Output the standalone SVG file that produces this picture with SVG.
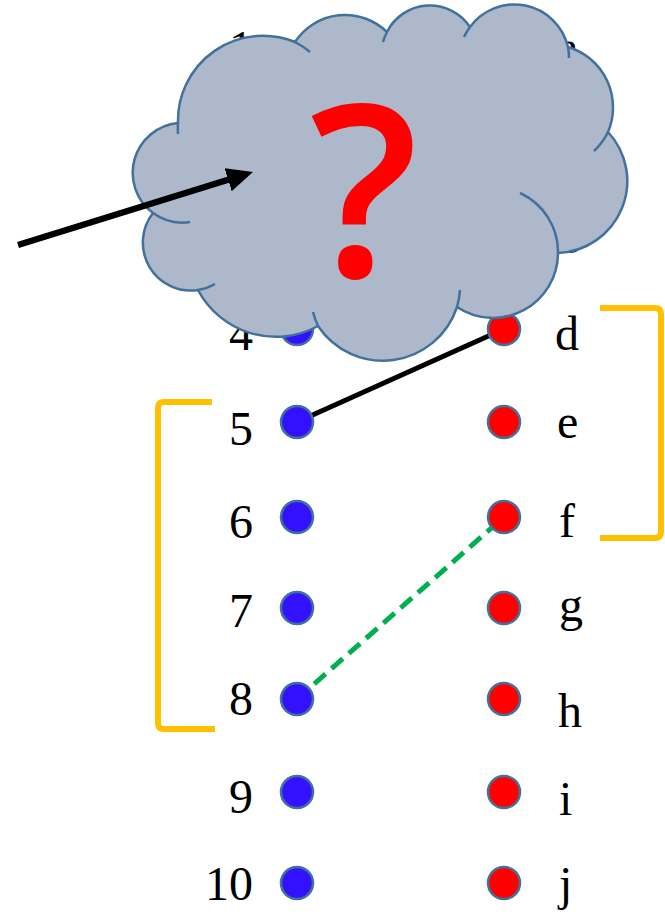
<svg xmlns="http://www.w3.org/2000/svg" width="665" height="914" viewBox="0 0 665 914">
<defs>
<style>
.lbl{font-family:"Liberation Serif","Times New Roman",serif;font-size:48px;fill:#000}
.num{text-anchor:end}
.b{fill:#3311FF;stroke:#41719C;stroke-width:2.5}
.r{fill:#FF0000;stroke:#41719C;stroke-width:2.5}
.br{fill:none;stroke:#FFC000;stroke-width:6;stroke-linejoin:round}
.cloud{fill:#ADB9CA;stroke:#41719C;stroke-width:2.5}
.inner{fill:none;stroke:#41719C;stroke-width:2.5}
</style>
<marker id="ah" viewBox="0 0 26 24" refX="16" refY="12" markerWidth="26" markerHeight="24" markerUnits="userSpaceOnUse" orient="auto">
<path d="M0,0 L26,12 L0,24 z" fill="#000"/>
</marker>
</defs>
<rect width="665" height="914" fill="#fff"/>
<g id="connectors">
<line x1="297" y1="422" x2="504" y2="329" stroke="#000" stroke-width="5"/>
<line x1="297" y1="699" x2="504" y2="517" stroke="#00B050" stroke-width="5" stroke-dasharray="15 8"/>
</g>
<g id="brackets">
<path class="br" d="M212,402 L164,402 Q158,402 158,408 L158,723 Q158,729 164,729 L215,729"/>
<path class="br" d="M600,308 L655,308 Q661,308 661,314 L661,532 Q661,538 655,538 L600,538"/>
</g>
<g id="n1"><circle class="b" cx="297" cy="57" r="16"/><text class="lbl num" x="253" y="64">1</text></g>
<g id="n2"><circle class="b" cx="297" cy="137" r="16"/><text class="lbl num" x="253" y="160">2</text></g>
<g id="n3"><circle class="b" cx="297" cy="234" r="16"/><text class="lbl num" x="253" y="257">3</text></g>
<g id="n4"><circle class="b" cx="297" cy="329" r="16"/><text class="lbl num" x="253" y="350">4</text></g>
<g id="n5"><circle class="b" cx="297" cy="422" r="16"/><text class="lbl num" x="253" y="445">5</text></g>
<g id="n6"><circle class="b" cx="297" cy="517" r="16"/><text class="lbl num" x="253" y="538">6</text></g>
<g id="n7"><circle class="b" cx="297" cy="608" r="16"/><text class="lbl num" x="253" y="627">7</text></g>
<g id="n8"><circle class="b" cx="297" cy="699" r="16"/><text class="lbl num" x="253" y="715">8</text></g>
<g id="n9"><circle class="b" cx="297" cy="792" r="16"/><text class="lbl num" x="253" y="813">9</text></g>
<g id="n10"><circle class="b" cx="297" cy="883" r="16"/><text class="lbl num" x="253" y="900">10</text></g>
<g id="na"><circle class="r" cx="504" cy="45" r="16"/><text class="lbl" x="557" y="64">a</text></g>
<g id="nb"><circle class="r" cx="504" cy="137" r="16"/><text class="lbl" x="557" y="160">b</text></g>
<g id="nc"><circle class="r" cx="504" cy="234" r="16"/><text class="lbl" x="557" y="253">c</text></g>
<g id="nd"><circle class="r" cx="504" cy="329" r="16"/><text class="lbl" x="555" y="350">d</text></g>
<g id="ne"><circle class="r" cx="504" cy="422" r="16"/><text class="lbl" x="557" y="438">e</text></g>
<g id="nf"><circle class="r" cx="504" cy="517" r="16"/><text class="lbl" x="559" y="537">f</text></g>
<g id="ng"><circle class="r" cx="504" cy="608" r="16"/><text class="lbl" x="559" y="621">g</text></g>
<g id="nh"><circle class="r" cx="504" cy="699" r="16"/><text class="lbl" x="558" y="727">h</text></g>
<g id="ni"><circle class="r" cx="504" cy="792" r="16"/><text class="lbl" x="559" y="815">i</text></g>
<g id="nj"><circle class="r" cx="504" cy="883" r="16"/><text class="lbl" x="559" y="900">j</text></g>
<g id="cloud">
<path class="cloud" d="M178,123 A85,85 0 0 1 295,42 A60,60 0 0 1 387,32 A48,48 0 0 1 470,27 A55,55 0 0 1 568,47 A63,63 0 0 1 608,132 A72,72 0 0 1 558,253 A65,65 0 0 1 457,307 A78,78 0 0 1 318,326 A88,88 0 0 1 198,290 A48,48 0 0 1 153,213 A50,50 0 0 1 178,123 Z"/>
<path class="inner" d="M178,123 A85,85 0 0 0 178,134 M295,42 A85,85 0 0 1 310,52 M387,32 A48,48 0 0 0 383,42 M470,27 A55,55 0 0 0 464,37 M568,47 A55,55 0 0 1 569,58 M608,132 A63,63 0 0 1 594,151 M558,253 A65,65 0 0 0 520,193 M457,307 A78,78 0 0 0 460,290 M318,326 A78,78 0 0 1 313,312 M198,290 A48,48 0 0 0 215,284 M153,213 A50,50 0 0 0 190,222"/>
<text x="364" y="277" text-anchor="middle" font-family="'Open Sans','Liberation Sans',sans-serif" font-size="240" font-weight="600" fill="#FF0000">?</text>
</g>
<g id="arrow">
<line x1="18" y1="245" x2="243.4" y2="175" stroke="#000" stroke-width="6.5" marker-end="url(#ah)"/>
</g>
</svg>
